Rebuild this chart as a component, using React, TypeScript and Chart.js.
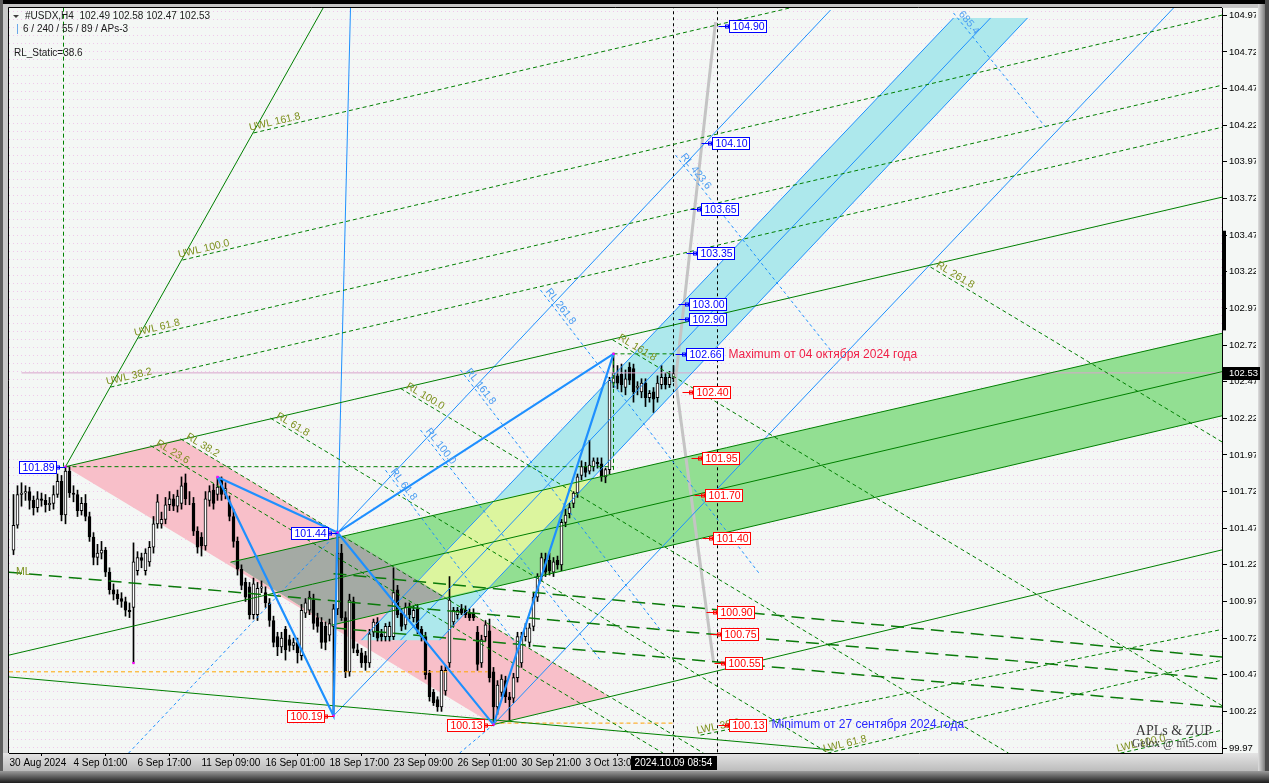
import React, { useEffect, useRef } from 'react';
import { Chart, registerables } from 'chart.js';

Chart.register(...registerables);

const W = 1269;
const H = 783;
const FONT = '"Liberation Sans", Arial, sans-serif';

type Pt = [number, number];

// H4 bars of #USDX, one value per bar
const opens = [
  101.32, 101.49, 101.70, 101.71, 101.72, 101.66, 101.61, 101.67, 101.66, 101.63,
  101.64, 101.70, 101.79, 101.56, 101.86, 101.71, 101.70, 101.59, 101.64, 101.55,
  101.41, 101.27, 101.30, 101.32, 101.17, 101.05, 101.02, 100.99, 100.97, 100.91,
  100.93, 101.18, 101.27, 101.18, 101.24, 101.34, 101.50, 101.50, 101.53, 101.63,
  101.67, 101.62, 101.64, 101.78, 101.67, 101.64, 101.45, 101.41, 101.35, 101.66,
  101.73, 101.70, 101.80, 101.70, 101.65, 101.55, 101.38, 101.19, 101.10, 101.07,
  100.88, 100.88, 101.06, 101.03, 100.96, 100.84, 100.73, 100.66, 100.78, 100.71,
  100.67, 100.69, 100.60, 100.89, 100.91, 100.98, 100.86, 100.83, 100.80, 100.74,
  100.80, 100.92, 101.30, 100.86, 100.49, 100.97, 100.64, 100.62, 100.60, 100.55,
  100.76, 100.83, 100.75, 100.73, 100.73, 100.73, 101.05, 100.89, 100.81, 100.93,
  100.86, 100.92, 100.78, 100.73, 100.48, 100.35, 100.30, 100.25, 100.36, 100.55,
  100.83, 100.88, 100.92, 100.91, 100.89, 100.89, 100.76, 100.55, 100.73, 100.77,
  100.49, 100.25, 100.35, 100.43, 100.32, 100.31, 100.45, 100.55, 100.73, 100.69,
  100.80, 101.00, 101.14, 101.26, 101.25, 101.17, 101.25, 101.22, 101.51, 101.57,
  101.64, 101.71, 101.83, 101.89, 101.86, 101.89, 101.92, 101.91, 101.82, 101.87,
  102.46, 102.51, 102.52, 102.43, 102.57, 102.56, 102.43, 102.40, 102.46, 102.36,
  102.40, 102.36, 102.45, 102.50, 102.45, 102.49,
];
const highs = [
  101.70, 101.76, 101.78, 101.76, 101.75, 101.69, 101.72, 101.71, 101.70, 101.68,
  101.76, 101.84, 101.83, 101.89, 101.89, 101.76, 101.73, 101.68, 101.70, 101.58,
  101.44, 101.36, 101.38, 101.34, 101.20, 101.09, 101.05, 101.03, 101.00, 100.96,
  101.37, 101.31, 101.30, 101.33, 101.38, 101.55, 101.70, 101.58, 101.68, 101.72,
  101.70, 101.73, 101.82, 101.84, 101.72, 101.68, 101.48, 101.44, 101.72, 101.76,
  101.77, 101.82, 101.82, 101.78, 101.69, 101.60, 101.41, 101.22, 101.13, 101.10,
  101.13, 101.10, 101.11, 101.07, 100.99, 100.87, 100.76, 100.76, 100.80, 100.74,
  100.72, 100.72, 100.95, 100.99, 101.04, 101.02, 100.89, 100.86, 100.83, 100.85,
  100.95, 101.44, 101.36, 100.90, 101.02, 101.00, 100.68, 100.65, 100.63, 100.78,
  100.85, 100.86, 100.78, 100.82, 100.83, 101.20, 101.08, 100.92, 100.96, 100.96,
  100.94, 100.95, 100.80, 100.76, 100.50, 100.37, 100.32, 100.53, 100.53, 101.14,
  100.93, 100.93, 100.95, 100.94, 100.92, 100.92, 100.80, 100.74, 100.84, 100.85,
  100.52, 100.43, 100.47, 100.46, 100.35, 100.48, 100.76, 100.76, 100.82, 100.82,
  101.03, 101.16, 101.30, 101.30, 101.30, 101.27, 101.28, 101.53, 101.60, 101.64,
  101.72, 101.84, 101.93, 101.92, 102.07, 101.95, 101.95, 101.95, 101.88, 102.50,
  102.665, 102.58, 102.59, 102.55, 102.60, 102.59, 102.47, 102.49, 102.49, 102.41,
  102.43, 102.51, 102.58, 102.53, 102.54, 102.58,
];
const lows = [
  101.29, 101.47, 101.62, 101.66, 101.60, 101.56, 101.58, 101.62, 101.58, 101.59,
  101.60, 101.68, 101.52, 101.50, 101.68, 101.65, 101.55, 101.56, 101.52, 101.38,
  101.22, 101.22, 101.26, 101.14, 101.02, 100.98, 100.95, 100.93, 100.87, 100.86,
  100.55, 101.15, 101.20, 101.15, 101.21, 101.30, 101.47, 101.47, 101.50, 101.59,
  101.59, 101.58, 101.60, 101.63, 101.63, 101.42, 101.30, 101.28, 101.32, 101.62,
  101.60, 101.66, 101.66, 101.67, 101.52, 101.34, 101.15, 101.05, 100.97, 100.85,
  100.85, 100.84, 101.03, 100.93, 100.80, 100.66, 100.60, 100.62, 100.57, 100.63,
  100.64, 100.55, 100.57, 100.86, 100.88, 100.78, 100.76, 100.65, 100.64, 100.70,
  100.19, 100.88, 100.84, 100.45, 100.46, 100.62, 100.60, 100.52, 100.50, 100.52,
  100.73, 100.70, 100.70, 100.70, 100.70, 100.71, 100.86, 100.77, 100.78, 100.85,
  100.83, 100.75, 100.70, 100.44, 100.29, 100.26, 100.22, 100.22, 100.33, 100.52,
  100.80, 100.85, 100.88, 100.86, 100.84, 100.84, 100.50, 100.52, 100.70, 100.42,
  100.13, 100.20, 100.32, 100.28, 100.16, 100.28, 100.42, 100.52, 100.70, 100.66,
  100.77, 100.97, 101.11, 101.14, 101.15, 101.14, 101.19, 101.18, 101.48, 101.54,
  101.61, 101.68, 101.80, 101.82, 101.84, 101.86, 101.88, 101.79, 101.78, 101.84,
  102.43, 102.42, 102.40, 102.38, 102.45, 102.33, 102.38, 102.36, 102.30, 102.33,
  102.26, 102.33, 102.42, 102.42, 102.43, 102.47,
];
const closes = [
  101.49, 101.70, 101.71, 101.72, 101.66, 101.61, 101.67, 101.66, 101.63, 101.64,
  101.70, 101.79, 101.56, 101.86, 101.71, 101.70, 101.59, 101.64, 101.55, 101.41,
  101.27, 101.30, 101.32, 101.17, 101.05, 101.02, 100.99, 100.97, 100.91, 100.90,
  101.24, 101.27, 101.25, 101.30, 101.34, 101.50, 101.65, 101.53, 101.63, 101.67,
  101.62, 101.69, 101.76, 101.67, 101.67, 101.45, 101.34, 101.35, 101.67, 101.72,
  101.64, 101.75, 101.70, 101.74, 101.55, 101.38, 101.19, 101.08, 101.00, 100.88,
  101.09, 101.06, 101.07, 100.96, 100.84, 100.69, 100.66, 100.72, 100.64, 100.67,
  100.69, 100.62, 100.91, 100.96, 101.00, 100.82, 100.80, 100.69, 100.69, 100.82,
  100.92, 101.30, 100.86, 100.49, 100.98, 100.65, 100.62, 100.55, 100.55, 100.75,
  100.83, 100.72, 100.73, 100.80, 100.80, 101.03, 100.88, 100.80, 100.93, 100.88,
  100.91, 100.78, 100.73, 100.47, 100.32, 100.28, 100.25, 100.50, 100.50, 100.98,
  100.91, 100.91, 100.89, 100.88, 100.86, 100.86, 100.54, 100.71, 100.81, 100.45,
  100.25, 100.40, 100.44, 100.32, 100.30, 100.45, 100.73, 100.73, 100.79, 100.79,
  101.00, 101.14, 101.27, 101.17, 101.18, 101.24, 101.22, 101.51, 101.56, 101.61,
  101.71, 101.82, 101.89, 101.85, 101.90, 101.93, 101.91, 101.82, 101.87, 102.48,
  102.53, 102.46, 102.45, 102.49, 102.48, 102.40, 102.44, 102.46, 102.36, 102.39,
  102.35, 102.46, 102.50, 102.45, 102.50, 102.53,
];

// axes
const priceTicks = [
  99.97, 100.22, 100.47, 100.72, 100.97, 101.22, 101.47, 101.72, 101.97, 102.22, 102.47,
  102.72, 102.97, 103.22, 103.47, 103.72, 103.97, 104.22, 104.47, 104.72, 104.97,
];
const timeTickBars = [-1, 15, 31, 47, 63, 79, 95, 111, 127, 143];
const timeTickLabels = [
  '30 Aug 2024', '4 Sep 01:00', '6 Sep 17:00', '11 Sep 09:00', '16 Sep 01:00',
  '18 Sep 17:00', '23 Sep 09:00', '26 Sep 01:00', '30 Sep 21:00', '3 Oct 13:00',
];
const cursorBar = 165;
const cursorTime = '2024.10.09 08:54';
const projectionBar = 176;

// zigzag swings
const swingBars = [13, 30, 51, 80, 81, 120, 150];
const swingPrices = [101.89, 100.55, 101.82, 100.19, 101.44, 100.13, 102.66];

// objects, anchors as [bar, price]
const zigzagMain: Pt[] = [[51, 101.82], [80, 100.19], [81, 101.44], [120, 100.13], [150, 102.66]];
const zigzagLinks: Pt[] = [[51, 101.82], [81, 101.44], [150, 102.66]];

const greenSolid: Pt[][] = [
  [[13, 101.89], [77.4, 105.02]],
  [[13, 101.89], [302.25, 103.73]],
  [[54.25, 101.238], [302.25, 102.801]],
  [[-1.125, 100.604], [302.25, 102.539]],
  [[79.5, 100.808], [302.25, 102.238]],
  [[-1.125, 100.455], [205, 99.956]],
  [[120, 100.13], [302.25, 101.323]],
];
const mlLines: Pt[][] = [
  [[-1.125, 101.17], [302.25, 100.44]],
  [[80, 101.16], [302.25, 100.59]],
  [[80, 100.79], [302.25, 100.249]],
];
const uwlNames = ['UWL 38.2', 'UWL 61.8', 'UWL 100.0', 'UWL 161.8'];
const uwlLines: Pt[][] = [
  [[24.25, 102.433], [302.25, 104.207]],
  [[31.25, 102.767], [302.25, 104.494]],
  [[42.25, 103.30], [302.25, 104.972]],
  [[60, 104.167], [302.25, 105.709]],
];
const rlNames = ['RL 23.6', 'RL 38.2', 'RL 61.8', 'RL 100.0', 'RL 161.8', 'RL 261.8'];
const rlLines: Pt[][] = [
  [[34.25, 102.034], [162.4, 99.935]],
  [[41.75, 102.08], [172.5, 99.935]],
  [[64.25, 102.221], [203.75, 99.935]],
  [[96.75, 102.424], [248.75, 99.935]],
  [[149.75, 102.756], [302.25, 100.257]],
  [[229.25, 103.252], [302.25, 102.057]],
];
const lwlNames = ['LWL 38.2', 'LWL 61.8', 'LWL 100.0'];
const lwlLines: Pt[][] = [
  [[171.75, 100.058], [302.25, 100.78]],
  [[203.5, 99.935], [302.25, 100.57]],
  [[276.75, 99.935], [302.25, 100.092]],
];
const guideLines: Pt[][] = [
  [[13, 101.89], [150, 101.89]],
  [[12.5, 101.89], [12.5, 105.02]],
  [[150, 102.66], [165, 102.66]],
  [[150, 102.66], [150, 101.85]],
];
const blueSolid: Pt[][] = [
  [[81, 101.44], [204.25, 105.006]],
  [[120, 100.13], [290, 105.02]],
  [[80, 100.19], [98.25, 100.706]],
  [[81, 101.44], [84.25, 105.02]],
  [[235, 104.952], [87, 100.706]],
  [[244.25, 104.952], [96.75, 100.706]],
  [[253.5, 104.952], [106.5, 100.706]],
];
const blueBack: Pt[][] = [
  [[28.75, 99.935], [81, 101.44]],
  [[111.5, 99.935], [120, 100.13]],
];
const blueRlNames = ['685.4', 'RL 423.6', 'RL 261.8', 'RL 161.8', 'RL 100.0', 'RL 61.8'];
const blueRlLines: Pt[][] = [
  [[235, 104.986], [258, 104.207]],
  [[165.5, 104.016], [204.25, 102.685]],
  [[131.75, 103.095], [186.75, 101.15]],
  [[111.75, 102.549], [161.75, 100.775]],
  [[101.75, 102.14], [146.75, 100.57]],
  [[93, 101.866], [126.75, 100.64]],
];
const zupProjection: Pt[][] = [
  [[165.5, 102.48], [175.5, 104.924]],
  [[165.5, 102.48], [175, 100.556]],
];
const orangeLevels: Pt[][] = [
  [[-1.125, 100.49], [118.5, 100.49]],
  [[120, 100.14], [165, 100.14]],
];
const axisMarkPrices = [103.50, 102.82];

// filled zones
const pinkZone: Pt[] = [[13, 101.89], [41.75, 102.08], [149, 100.323], [120, 100.13]];
const cyanZone: Pt[] = [[235, 104.952], [253.5, 104.952], [106.5, 100.706], [87, 100.706]];
const greenZone: Pt[] = [[54.25, 101.238], [302.25, 102.801], [302.25, 102.238], [79.5, 100.808]];
const yellowZone: Pt[] = [[120, 101.655], [144.75, 101.812], [119.25, 101.07], [94, 100.913]];
const greyZone: Pt[] = [[54.25, 101.238], [82.5, 101.416], [108, 101.0], [79.5, 100.808]];

// price levels of the projection
const levelPrices = [104.90, 104.10, 103.65, 103.35, 103.00, 102.90, 102.66, 102.40, 101.95, 101.70, 101.40, 100.90, 100.75, 100.55, 100.13];
const levelBars = [178.75, 174.5, 171.75, 170.75, 168.75, 168.75, 168, 169.75, 172, 172.75, 174.75, 175.75, 176.75, 177.75, 178.75];
const pivotLabelIdx = [0, 4, 3, 5];

const lastClose = closes[closes.length - 1];

const App: React.FC = () => {
  const canvasRef = useRef<HTMLCanvasElement>(null);
  const chartRef = useRef<Chart | null>(null);

  useEffect(() => {
    document.body.style.margin = '0';
    const canvas = canvasRef.current;
    if (!canvas) return;
    if (chartRef.current) chartRef.current.destroy();

    const dots = document.createElement('canvas');
    dots.width = 4;
    dots.height = 8;
    const dctx = dots.getContext('2d');
    if (dctx) {
      dctx.fillStyle = '#f0c6ec';
      dctx.fillRect(1, 3, 1, 1);
    }

    const px = (c: any, v: number) => c.scales.x.getPixelForValue(v);
    const py = (c: any, v: number) => c.scales.y.getPixelForValue(v);

    const framePlugin = {
      id: 'frame',
      beforeDraw(c: any) {
        const { ctx, chartArea: a } = c;
        ctx.save();
        ctx.fillStyle = '#8a8a8a';
        ctx.fillRect(0, 0, W, H);
        ctx.fillStyle = '#000';
        ctx.fillRect(0, 0, W, 4);
        ctx.fillStyle = '#c4c4c4';
        ctx.fillRect(0, 4, W, 4);
        ctx.fillStyle = '#5e5e5e';
        ctx.fillRect(0, 0, 3, H);
        ctx.fillStyle = '#c8c8c8';
        ctx.fillRect(3, 4, a.left - 3, a.bottom - 4);
        // right price column
        ctx.fillStyle = '#f4f7f5';
        ctx.fillRect(a.right, 8, 1258 - a.right, a.bottom - 8);
        const gr = ctx.createLinearGradient(1258, 0, 1265, 0);
        gr.addColorStop(0, '#dedede');
        gr.addColorStop(1, '#7c7c7c');
        ctx.fillStyle = gr;
        ctx.fillRect(1258, 4, 7, 771);
        ctx.fillStyle = '#4a4a4a';
        ctx.fillRect(1265, 0, 4, H);
        // time band
        const gb = ctx.createLinearGradient(0, a.bottom, 0, 771);
        gb.addColorStop(0, '#e4e4e4');
        gb.addColorStop(1, '#bcbcbc');
        ctx.fillStyle = gb;
        ctx.fillRect(3, a.bottom, 1255, 771 - a.bottom);
        const gd = ctx.createLinearGradient(0, 771, 0, H);
        gd.addColorStop(0, '#9a9a9a');
        gd.addColorStop(1, '#1c1c1c');
        ctx.fillStyle = gd;
        ctx.fillRect(0, 771, W, H - 771);
        // plot background
        ctx.fillStyle = '#f4f7f5';
        ctx.fillRect(a.left, a.top, a.right - a.left, a.bottom - a.top);
        const pat = ctx.createPattern(dots, 'repeat');
        if (pat) {
          ctx.fillStyle = pat;
          ctx.fillRect(a.left, a.top, a.right - a.left, a.bottom - a.top);
        }
        ctx.restore();
      },
    };

    const zonesPlugin = {
      id: 'zones',
      beforeDatasetsDraw(c: any) {
        const { ctx, chartArea: a } = c;
        const poly = (pts: Pt[], color: string) => {
          ctx.beginPath();
          pts.forEach(([b, p], k) => {
            if (k === 0) ctx.moveTo(px(c, b), py(c, p));
            else ctx.lineTo(px(c, b), py(c, p));
          });
          ctx.closePath();
          ctx.fillStyle = color;
          ctx.fill();
        };
        ctx.save();
        ctx.beginPath();
        ctx.rect(a.left, a.top, a.right - a.left, a.bottom - a.top);
        ctx.clip();
        poly(pinkZone, '#f8bfc9');
        poly(cyanZone, '#ade8ec');
        poly(greenZone, '#92df92');
        poly(yellowZone, '#dcf59e');
        poly(greyZone, '#a4aaa4');
        ctx.restore();
      },
    };

    const boxLabel = (ctx: CanvasRenderingContext2D, left: number, cy: number, text: string, color: string) => {
      ctx.font = `10.5px ${FONT}`;
      const w = Math.round(ctx.measureText(text).width) + 5;
      const x = Math.round(left) + 0.5;
      const y = Math.round(cy - 6) + 0.5;
      ctx.fillStyle = '#ffffff';
      ctx.fillRect(x, y, w, 12);
      ctx.strokeStyle = color;
      ctx.lineWidth = 1;
      ctx.strokeRect(x, y, w, 12);
      ctx.fillStyle = color;
      ctx.textAlign = 'left';
      ctx.textBaseline = 'middle';
      ctx.fillText(text, x + 3, y + 6.5);
      return w;
    };
    const marker = (ctx: CanvasRenderingContext2D, x0: number, x1: number, cy: number, sq: number, color: string) => {
      const y = Math.round(cy) + 0.5;
      ctx.strokeStyle = color;
      ctx.lineWidth = 1;
      ctx.beginPath();
      ctx.moveTo(x0, y);
      ctx.lineTo(x1, y);
      ctx.stroke();
      ctx.strokeRect(Math.round(sq) - 1.5, y - 1.5, 3, 3);
    };

    const labelsPlugin = {
      id: 'labels',
      afterDatasetsDraw(c: any) {
        const { ctx, chartArea: a } = c;
        ctx.save();
        // left / top borders
        ctx.strokeStyle = '#000';
        ctx.lineWidth = 1;
        ctx.beginPath();
        ctx.moveTo(a.left - 0.5, a.bottom);
        ctx.lineTo(a.left - 0.5, a.top - 0.5);
        ctx.lineTo(a.right, a.top - 0.5);
        ctx.stroke();

        ctx.save();
        ctx.beginPath();
        ctx.rect(a.left, a.top, a.right - a.left, a.bottom - a.top);
        ctx.clip();

        const along = (seg: Pt[], text: string, color: string, da: number, dp: number) => {
          const x0 = px(c, seg[0][0]);
          const y0 = py(c, seg[0][1]);
          const ang = Math.atan2(py(c, seg[1][1]) - y0, px(c, seg[1][0]) - x0);
          ctx.save();
          ctx.translate(x0, y0);
          ctx.rotate(ang);
          ctx.font = `10.5px ${FONT}`;
          ctx.fillStyle = color;
          ctx.textAlign = 'left';
          ctx.textBaseline = 'alphabetic';
          ctx.fillText(text, da, dp);
          ctx.restore();
        };
        const olive = '#7c8f1c';
        uwlLines.forEach((s, k) => along(s, uwlNames[k], olive, -3, -3));
        rlLines.forEach((s, k) => along(s, rlNames[k], olive, 4, -3));
        lwlLines.forEach((s, k) => along(s, lwlNames[k], olive, -3, -2));
        blueRlLines.forEach((s, k) => along(s, blueRlNames[k], '#4a9cf2', 4, -3));

        ctx.font = `10.5px ${FONT}`;
        ctx.fillStyle = olive;
        ctx.textBaseline = 'middle';
        ctx.fillText('ML', px(c, mlLines[0][0][0]) + 7, py(c, mlLines[0][0][1]));

        // projection levels
        levelPrices.forEach((p, k) => {
          const color = p > lastClose ? '#0000ff' : '#ff0000';
          const left = px(c, levelBars[k]);
          const y = py(c, p);
          marker(ctx, left - 10, left, y, left - 2, color);
          const w = boxLabel(ctx, left, y, p.toFixed(2), color);
          ctx.font = `12px ${FONT}`;
          ctx.textBaseline = 'middle';
          if (p === swingPrices[6]) {
            ctx.fillStyle = '#f01e46';
            ctx.fillText('Maximum от 04 октября 2024 года', left + w + 6, y + 0.5);
          }
          if (p === swingPrices[5]) {
            ctx.fillStyle = '#2828ff';
            ctx.fillText('Minimum от 27 сентября 2024 года', left + w + 6, y + 0.5);
          }
        });
        // pivot labels
        pivotLabelIdx.forEach((k) => {
          const p = swingPrices[k];
          const color = k === 0 || k === 4 ? '#0000ff' : '#ff0000';
          const x = px(c, swingBars[k]);
          const y = py(c, p);
          ctx.font = `10.5px ${FONT}`;
          const w = Math.round(ctx.measureText(p.toFixed(2)).width) + 5;
          marker(ctx, x - 9, x, y, x - 8, color);
          boxLabel(ctx, x - 10 - w, y, p.toFixed(2), color);
        });

        // header texts
        ctx.fillStyle = '#404040';
        ctx.beginPath();
        ctx.moveTo(a.left + 4, a.top + 7);
        ctx.lineTo(a.left + 10, a.top + 7);
        ctx.lineTo(a.left + 7, a.top + 10);
        ctx.closePath();
        ctx.fill();
        ctx.font = `10px ${FONT}`;
        ctx.textBaseline = 'middle';
        ctx.fillStyle = '#1a1a1a';
        const last = closes.length - 1;
        ctx.fillText(
          `#USDX,H4  ${opens[last].toFixed(2)} ${highs[last].toFixed(2)} ${lows[last].toFixed(2)} ${closes[last].toFixed(2)}`,
          a.left + 16, a.top + 8,
        );
        ctx.fillStyle = '#6aa8e8';
        ctx.fillRect(a.left + 8, a.top + 16, 1, 10);
        ctx.fillStyle = '#1a1a1a';
        ctx.fillText('6 / 240 / 55 / 89 / APs-3', a.left + 14, a.top + 21);
        ctx.fillText('RL_Static=38.6', a.left + 5, a.top + 45);

        // signature
        ctx.fillStyle = '#3a3a3a';
        ctx.textAlign = 'right';
        ctx.font = '14px "Liberation Serif", serif';
        ctx.fillText('APLs & ZUP', a.right - 10, a.bottom - 22);
        ctx.font = '11.5px "Liberation Serif", serif';
        ctx.fillText('Gelox @ mt5.com', a.right - 5, a.bottom - 9);
        ctx.restore();

        // time cursor box
        const cx = px(c, cursorBar);
        ctx.font = `10px ${FONT}`;
        const tw = ctx.measureText(cursorTime).width + 8;
        ctx.fillStyle = '#000';
        ctx.fillRect(Math.round(cx - tw / 2), a.bottom + 3, Math.round(tw), 14);
        ctx.fillStyle = '#fff';
        ctx.textAlign = 'center';
        ctx.textBaseline = 'middle';
        ctx.fillText(cursorTime, cx, a.bottom + 10.5);

        // current price box and axis mark
        const yc = py(c, lastClose);
        ctx.fillStyle = '#000';
        ctx.fillRect(a.right + 1, Math.round(yc) - 6, 37, 13);
        ctx.fillStyle = '#fff';
        ctx.textAlign = 'left';
        ctx.font = `9.5px ${FONT}`;
        ctx.fillText(lastClose.toFixed(2), a.right + 7, Math.round(yc) + 0.5);
        ctx.fillStyle = '#000';
        const y1 = py(c, axisMarkPrices[0]);
        const y2 = py(c, axisMarkPrices[1]);
        ctx.fillRect(a.right + 1, y1, 3, y2 - y1);
        ctx.restore();
      },
    };

    const seg = (pts: Pt[], color: string, width = 1, dash: number[] = [], order = 2) => ({
      type: 'line',
      data: pts.map(([x, y]) => ({ x, y })),
      borderColor: color,
      borderWidth: width,
      borderDash: dash,
      pointRadius: 0,
      pointHoverRadius: 0,
      fill: false,
      tension: 0,
      order,
    });

    const bars = closes.map((_, i) => i);
    const green = '#008000';
    const blue = '#1e90ff';

    const datasets: any[] = [
      {
        type: 'bar',
        data: bars.map((i) => ({ x: i, y: [lows[i], highs[i]] })),
        backgroundColor: '#000',
        borderWidth: 0,
        barThickness: 1,
        grouped: false,
        order: 11,
      },
      {
        type: 'bar',
        data: bars.map((i) => ({ x: i, y: [opens[i], closes[i]] })),
        backgroundColor: bars.map((i) => (closes[i] >= opens[i] ? '#ffffff' : '#000000')),
        borderColor: '#000',
        borderWidth: 1,
        borderSkipped: false,
        barThickness: 3,
        grouped: false,
        order: 10,
      },
      seg([[2, lastClose], [302.25, lastClose]], '#d8a6cc', 1, [], 5),
      ...orangeLevels.map((s) => seg(s, '#ffa500', 1, [4, 3], 4)),
      ...greenSolid.map((s) => seg(s, green, 1)),
      ...mlLines.map((s) => seg(s, '#0a7a0a', 1.5, [13, 7])),
      ...uwlLines.map((s) => seg(s, green, 1, [4, 3])),
      ...rlLines.map((s) => seg(s, green, 1, [4, 3])),
      ...lwlLines.map((s) => seg(s, green, 1, [4, 3])),
      ...guideLines.map((s) => seg(s, green, 1, [4, 3])),
      ...blueSolid.map((s) => seg(s, blue, 1)),
      ...blueBack.map((s) => seg(s, blue, 1, [3, 3])),
      ...blueRlLines.map((s) => seg(s, blue, 1, [3, 3])),
      ...zupProjection.map((s) => seg(s, '#c4c4c4', 3)),
      seg([[cursorBar, 99.9], [cursorBar, 105.1]], '#000', 1, [3, 3]),
      seg([[projectionBar, 99.9], [projectionBar, 105.1]], '#000', 1, [3, 3]),
      seg(zigzagMain, blue, 2.2, [], 1),
      seg(zigzagLinks, blue, 2.2, [], 1),
      {
        type: 'scatter',
        data: swingBars.map((b, k) => ({ x: b, y: swingPrices[k] })),
        pointStyle: 'rect',
        pointRadius: 1.6,
        backgroundColor: '#ff00ff',
        borderColor: '#ff00ff',
        borderWidth: 0,
        order: 0,
      },
    ];

    const config: any = {
      type: 'line',
      data: { datasets },
      options: {
        responsive: false,
        animation: false,
        events: [],
        layout: { padding: { left: 9, top: 8, right: 13, bottom: 13 } },
        plugins: { legend: { display: false }, tooltip: { enabled: false } },
        scales: {
          x: {
            type: 'linear',
            min: -1.125,
            max: 302.125,
            offset: false,
            afterBuildTicks: (s: any) => {
              s.ticks = timeTickBars.map((v) => ({ value: v }));
            },
            afterFit: (s: any) => {
              s.height = 17;
            },
            ticks: {
              autoSkip: false,
              maxRotation: 0,
              minRotation: 0,
              align: 'start',
              padding: 1,
              color: '#000',
              font: { family: 'Liberation Sans', size: 10 },
              callback: (v: any) => {
                const k = timeTickBars.indexOf(Number(v));
                return k >= 0 ? timeTickLabels[k] : '';
              },
            },
            grid: { drawOnChartArea: false, drawTicks: true, tickLength: 3, color: '#000' },
            border: { display: true, color: '#000' },
          },
          y: {
            type: 'linear',
            position: 'right',
            min: 99.936,
            max: 105.02,
            afterBuildTicks: (s: any) => {
              s.ticks = priceTicks.map((v) => ({ value: v }));
            },
            afterFit: (s: any) => {
              s.width = 34;
            },
            ticks: {
              autoSkip: false,
              padding: 2,
              color: '#000',
              font: { family: 'Liberation Sans', size: 9.5 },
              callback: (v: any) => Number(v).toFixed(2),
            },
            grid: { drawOnChartArea: false, drawTicks: true, tickLength: 5, color: '#000' },
            border: { display: true, color: '#000' },
          },
        },
      },
      plugins: [framePlugin, zonesPlugin, labelsPlugin],
    };

    chartRef.current = new Chart(canvas, config);

    return () => {
      if (chartRef.current) {
        chartRef.current.destroy();
        chartRef.current = null;
      }
    };
  }, []);

  return (
    <canvas
      ref={canvasRef}
      width={W}
      height={H}
      style={{ display: 'block', width: `${W}px`, height: `${H}px` }}
    />
  );
};

export default App;
